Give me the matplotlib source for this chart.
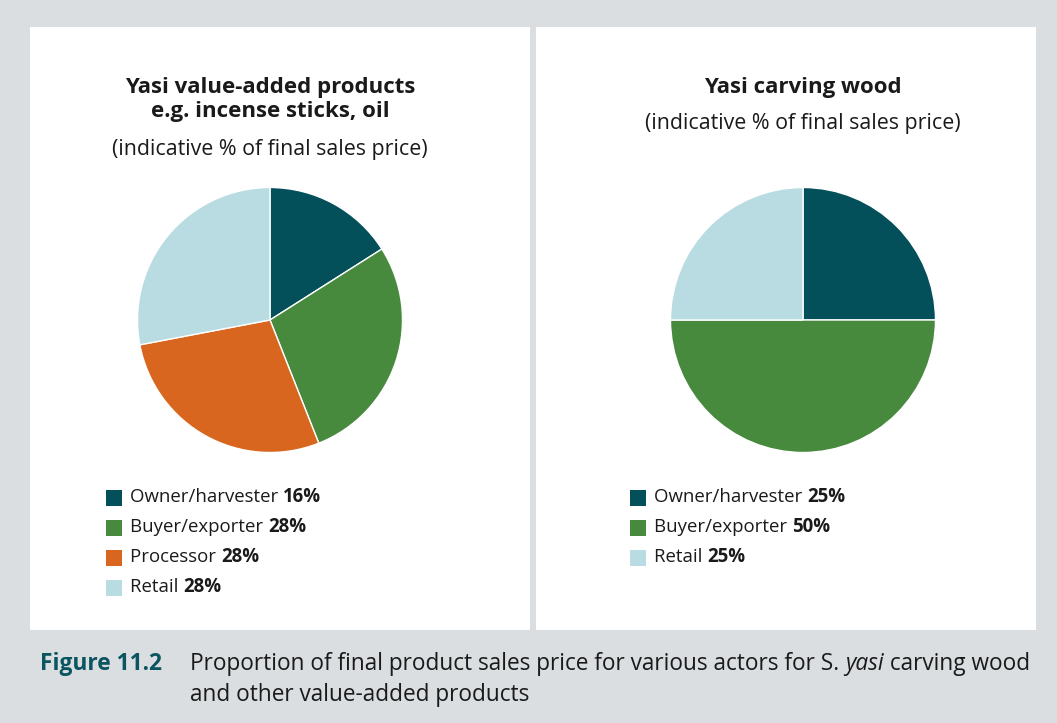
import matplotlib.pyplot as plt
from matplotlib.patches import Rectangle

plt.rcParams['font.family'] = ['Open Sans', 'DejaVu Sans']

# data
left_labels = ['Owner/harvester', 'Buyer/exporter', 'Processor', 'Retail']
left_values = [16, 28, 28, 28]
left_colors = ['#034f5a', '#478a3e', '#d9661f', '#b8dce1']

right_labels = ['Owner/harvester', 'Buyer/exporter', 'Retail']
right_values = [25, 50, 25]
right_colors = ['#034f5a', '#478a3e', '#b8dce1']

W, H = 1057, 723
fig = plt.figure(figsize=(W / 100, H / 100), dpi=100)
fig.patch.set_facecolor('#dadee1')

# white panels
for x0, x1 in [(30, 530), (536, 1036)]:
    fig.patches.append(Rectangle((x0 / W, 1 - 630 / H), (x1 - x0) / W, (630 - 27) / H,
                                 transform=fig.transFigure, facecolor='white',
                                 edgecolor='none', zorder=-1))

renderer = fig.canvas.get_renderer()


def px(x, y):
    return x / W, 1 - y / H


def panel(cx, values, colors, labels, titles, legend_x, legend_y0):
    r = 132.5
    ax = fig.add_axes([(cx - r) / W, 1 - (320 + r) / H, 2 * r / W, 2 * r / H])
    ax.pie(values, colors=colors, startangle=90, counterclock=False,
           wedgeprops=dict(edgecolor='white', linewidth=1))
    ax.set_xlim(-1, 1)
    ax.set_ylim(-1, 1)
    ax.set_aspect('equal')
    ax.axis('off')
    for text, y, weight, size in titles:
        fig.text(*px(cx, y), text, ha='center', va='center', fontsize=size,
                 fontweight=weight, color='#1a1a1a')
    for i, (lab, val) in enumerate(zip(labels, values)):
        y = legend_y0 + i * 30
        fig.patches.append(Rectangle(((legend_x) / W, 1 - (y + 8) / H), 16 / W, 16 / H,
                                     transform=fig.transFigure, facecolor=colors[i],
                                     edgecolor='none'))
        t = fig.text(*px(legend_x + 24, y), lab + ' ', ha='left', va='center',
                     fontsize=13.4, color='#1a1a1a')
        bb = t.get_window_extent(renderer)
        fig.text(bb.x1 / W, 1 - y / H, f'{val}%', ha='left', va='center',
                 fontsize=13.4, fontweight='bold', color='#1a1a1a')


panel(270, left_values, left_colors, left_labels,
      [('Yasi value-added products', 88, 'bold', 16),
       ('e.g. incense sticks, oil', 112, 'bold', 16),
       ('(indicative % of final sales price)', 150, 'normal', 15.4)],
      106, 497.5)

panel(803, right_values, right_colors, right_labels,
      [('Yasi carving wood', 88, 'bold', 16),
       ('(indicative % of final sales price)', 123, 'normal', 15.4)],
      630, 497.5)

# caption
cap = dict(fontsize=16.3, color='#1a1a1a', va='center')
fig.text(*px(40, 664), 'Figure 11.2', ha='left', fontweight='bold',
         **{**cap, 'fontsize': 16.4, 'color': '#0a5560'})
t1 = fig.text(*px(190, 664), 'Proportion of final product sales price for various actors for S. ',
              ha='left', **cap)
bb = t1.get_window_extent(renderer)
t2 = fig.text(bb.x1 / W, 1 - 664 / H, 'yasi', ha='left', style='italic', **cap)
bb = t2.get_window_extent(renderer)
fig.text(bb.x1 / W, 1 - 664 / H, ' carving wood', ha='left', **cap)
fig.text(*px(190, 695), 'and other value-added products', ha='left', **cap)

fig.savefig('out.png', dpi=100, facecolor=fig.get_facecolor())
